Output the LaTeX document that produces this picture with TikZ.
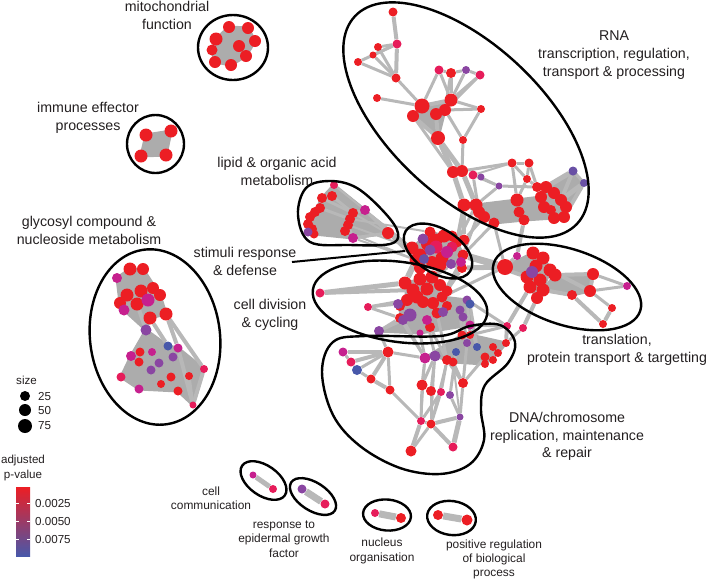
\documentclass[tikz,border=0pt]{standalone}
\usepackage{fontspec}
\setmainfont{Liberation Sans}
\usetikzlibrary{backgrounds}
\definecolor{pRed}{RGB}{236,30,36}
\definecolor{pCri}{RGB}{230,28,90}
\definecolor{pMag}{RGB}{198,32,142}
\definecolor{pPur}{RGB}{138,70,162}
\definecolor{pVio}{RGB}{105,80,165}
\definecolor{pBlu}{RGB}{72,88,170}
\definecolor{netGrey}{RGB}{184,184,184}
\definecolor{hullGrey}{RGB}{172,172,172}
\definecolor{txtGrey}{RGB}{35,31,32}
\tikzset{
  term/.style={circle, inner sep=0pt, minimum size=#1pt},
  link/.style={draw=netGrey, line width=#1pt},
  hull/.style={fill=hullGrey, draw=hullGrey, line width=3pt, line join=round},
  outline/.style={draw=black, line width=2.4pt},
  biglabel/.style={font=\fontsize{14.2}{17.8}\selectfont, text=txtGrey, align=center, inner sep=0pt},
  smalllabel/.style={font=\fontsize{11.9}{14.4}\selectfont, text=txtGrey, align=center, inner sep=0pt},
  leglabel/.style={font=\fontsize{11.6}{15}\selectfont, text=txtGrey, align=center, inner sep=0pt},
}
\begin{document}
\begin{tikzpicture}[x=1pt, y=-1pt]
		%%%%% START %%%%%
		\useasboundingbox (0,0) rectangle (708,582);

		% mitochondrial function + immune effector
		\foreach \n/\x/\y/\d/\c in {mt1/229/27/12/pRed, mt2/248/28/12/pRed, mt3/216/39/13/pRed,
		  mt4/255/41/12/pRed, mt5/239/46/12/pRed, mt6/212/50/11/pRed, mt7/246/56/12/pRed,
		  mt8/215/62/12/pRed, mt9/231/65/12/pRed,
		  im1/146/135/13/pRed, im2/171/131/13/pRed, im3/141/156/13/pRed, im4/166/155/13/pRed}
		  \node[term=\d, fill=\c] (\n) at (\x,\y) {};

		% glycosyl compound & nucleoside metabolism
		\foreach \n/\x/\y/\d/\c in {gl1/130/269/13/pRed, gl2/143/269/12/pRed, gl3/117/278/10/pMag,
		  gl4/141/291/13/pRed, gl5/153/288/12/pRed, gl6/160/295/12/pRed, gl7/127/295/13/pRed,
		  gl8/137/304/13/pRed, gl9/120/303/12/pRed, gl10/148/300/13/pMag, gl11/124/310/11/pMag,
		  gl12/150/318/13/pRed, gl13/166/314/13/pRed, gl14/146/330/11/pPur, gl15/168/346/9/pBlu,
		  gl16/178/348/9/pMag, gl17/131/356/10/pMag, gl18/140/352/9/pRed, gl19/139/362/9/pRed,
		  gl20/152/352/8/pMag, gl21/159/363/9/pPur, gl22/173/357/9/pPur, gl23/151/370/9/pPur,
		  gl24/121/377/9/pCri, gl25/139/389/9/pMag, gl26/161/384/8/pRed, gl27/171/377/9/pRed,
		  gl28/189/376/8/pRed, gl29/178/391/9/pRed, gl30/204/369/8/pCri, gl31/193/405/7/pCri}
		  \node[term=\d, fill=\c] (\n) at (\x,\y) {};

		% lipid & organic acid metabolism
		\foreach \n/\x/\y/\d/\c in {li2/332/196/10/pRed, li3/322/198/10/pRed, li4/320/208/10/pRed,
		  li5/315/212/10/pRed, li6/310/217/10/pRed, li7/308/224/10/pRed, li8/312/229/10/pRed,
		  li9/314/234/9/pRed, li11/353/213/10/pRed, li12/350/219/10/pRed, li13/348/225/10/pRed,
		  li14/345/231/10/pRed, li17/388/233/12/pRed, li1/334/185/8/pCri, li15/365/210/10/pMag,
		  li16/353/238/10/pMag, li10/308/232/9/pPur}
		  \node[term=\d, fill=\c] (\n) at (\x,\y) {};

		% RNA transcription, regulation, transport & processing
		\foreach \n/\x/\y/\d/\c in {rn1/393/12/9/pRed, rn2/378/47/8/pRed, rn3/397/44/9/pCri,
		  rn4/373/55/7/pRed, rn5/358/62/8/pRed, rn6/396/78/9/pRed, rn7/377/98/8/pRed,
		  rn8/439/70/9/pCri, rn9/451/73/10/pRed, rn10/466/70/8/pPur, rn11/480/75/9/pCri,
		  rn12/422/106/15/pRed, rn13/451/100/13/pRed, rn14/413/116/12/pRed, rn15/436/114/12/pRed,
		  rn16/445/110/12/pRed, rn17/481/109/8/pRed, rn18/438/138/14/pRed, rn19/463/140/8/pRed,
		  rn20/453/172/12/pRed, rn21/462/171/12/pRed, rn22/473/175/9/pCri, rn23/481/177/7/pPur,
		  rn24/499/186/7/pPur, rn25/512/163/9/pRed, rn26/529/163/9/pRed, rn27/527/179/8/pRed,
		  rn28/573/171/9/pVio, rn29/584/183/8/pVio, rn30/537/187/10/pRed, rn31/546/187/12/pRed,
		  rn32/554/193/12/pRed, rn33/561/200/12/pRed, rn34/566/207/12/pRed, rn35/564/217/12/pRed,
		  rn36/554/218/12/pRed, rn37/544/207/12/pRed, rn38/551/210/10/pRed, rn39/541/197/12/pRed,
		  rn40/517/200/13/pRed, rn41/519/212/11/pRed, rn42/524/220/11/pRed, rn43/464/205/13/pRed,
		  rn44/476/205/13/pRed, rn45/479/212/12/pRed, rn46/484/217/12/pRed, rn47/494/223/11/pRed,
		  rn48/464/240/11/pRed}
		  \node[term=\d, fill=\c] (\n) at (\x,\y) {};

		% stimuli response & defense
		\foreach \n/\x/\y/\d/\c in {st9/412/248/13/pRed, st10/416/260/13/pRed, st15/420/268/12/pRed,
		  st12/430/232/11/pRed, st19/428/244/14/pRed, st20/420/255/13/pRed, st7/436/240/13/pRed,
		  st8/444/236/13/pRed, st13/457/242/11/pRed, st11/442/258/13/pRed, st14/463/255/11/pRed,
		  st18/462/268/10/pRed, st21/440/265/13/pRed, st22/452/236/11/pRed, st23/432/262/12/pRed,
		  st16/436/247/13/pCri, st17/452/247/11/pCri, st4/447/252/12/pMag,
		  st6/461/262/10/pMag, st1/423/239/11/pPur, st2/430/250/11/pPur, st5/451/264/10/pPur,
		  st3/424/259/10/pVio}
		  \node[term=\d, fill=\c] (\n) at (\x,\y) {};

		% cell division & cycling
		\foreach \n/\x/\y/\d/\c in {cd1/320/293/9/pCri, cd2/368/307/8/pCri, cd3/405/283/13/pRed,
		  cd4/420/279/13/pRed, cd5/432/277/13/pRed, cd6/413/290/13/pRed, cd7/427/289/13/pRed,
		  cd30/417/297/13/pRed, cd31/440/285/12/pRed, cd32/447/291/11/pRed,
		  cd29/400/306/10/pRed, cd8/407/300/12/pRed, cd9/423/302/12/pRed, cd10/433/303/12/pRed,
		  cd11/442/297/11/pRed, cd12/437/313/11/pRed, cd13/447/306/10/pRed, cd14/400/318/10/pRed,
		  cd28/430/327/10/pRed, cd16/398/304/10/pPur, cd17/410/315/13/pPur, cd18/403/320/10/pPur,
		  cd19/427/320/10/pMag, cd20/443/312/10/pPur, cd21/460/310/9/pPur, cd22/467/300/9/pPur,
		  cd23/470/304/9/pBlu, cd24/463/317/9/pPur, cd25/470/325/9/pMag, cd26/379/331/10/pPur,
		  cd27/420/333/7/pMag}
		  \node[term=\d, fill=\c] (\n) at (\x,\y) {};

		% DNA/chromosome replication, maintenance & repair
		\foreach \n/\x/\y/\d/\c in {dn1/343/352/9/pMag, dn2/351/362/9/pCri, dn3/357/370/10/pBlu,
		  dn4/388/352/11/pRed, dn5/371/379/9/pRed, dn6/390/390/9/pRed, dn9/447/360/10/pRed,
		  dn10/453/362/9/pRed, dn12/462/335/9/pRed, dn15/470/335/8/pRed, dn16/485/357/9/pRed,
		  dn17/493/347/8/pRed, dn18/498/353/8/pRed, dn19/493/360/8/pRed, dn20/485/364/8/pRed,
		  dn21/506/343/8/pRed, dn7/425/358/11/pMag, dn8/435/356/11/pPur, dn11/456/352/8/pBlu,
		  dn13/467/343/8/pPur, dn14/477/347/8/pBlu, dn22/422/385/11/pRed, dn23/431/391/10/pRed,
		  dn24/441/392/8/pCri, dn25/450/395/8/pPur, dn26/463/383/10/pRed, dn27/460/417/7/pPur,
		  dn28/421/421/8/pCri, dn29/431/424/9/pRed, dn30/411/451/11/pRed, dn31/453/447/9/pCri}
		  \node[term=\d, fill=\c] (\n) at (\x,\y) {};

		% translation, protein transport & targetting
		\foreach \n/\x/\y/\d/\c in {tr2/505/267/16/pRed, tr4/533/253/13/pRed, tr5/543/258/13/pRed,
		  tr6/550/270/13/pRed, tr7/540/280/13/pRed, tr8/530/287/13/pRed, tr9/543/290/13/pRed,
		  tr10/537/298/12/pRed, tr11/555/275/13/pRed, tr12/527/277/13/pRed, tr19/536/266/13/pRed,
		  tr13/593/274/12/pRed, tr14/590/291/12/pRed, tr15/572/295/10/pRed, tr17/612/308/8/pRed,
		  tr18/603/324/8/pRed, tr1/517/256/8/pMag, tr3/532/272/12/pPur, tr16/627/286/8/pMag,
		  lk1/507/326/8/pCri, lk2/523/328/8/pCri}
		  \node[term=\d, fill=\c] (\n) at (\x,\y) {};

		% small pairs
		\foreach \n/\x/\y/\d/\c in {cc1/253/475/7/pMag, cc2/273/489/8/pCri, eg1/302/489/9/pPur,
		  eg2/325/504/9/pCri, nu1/375/513/8/pCri, nu2/401/518/10/pRed, pr1/438/515/10/pRed,
		  pr2/467/520/11/pRed}
		  \node[term=\d, fill=\c] (\n) at (\x,\y) {};

		\begin{scope}[on background layer]
		\filldraw[hull] (mt1.center) -- (mt2.center) -- (mt4.center) -- (mt7.center) -- (mt9.center) -- (mt8.center) -- (mt6.center) -- (mt3.center) -- cycle;
		\filldraw[hull] (im1.center) -- (im2.center) -- (im4.center) -- (im3.center) -- cycle;
		\filldraw[hull] (gl3.center) -- (gl1.center) -- (gl2.center) -- (gl6.center) -- (gl13.center) -- (gl12.center) -- (gl14.center) -- (gl11.center) -- (gl9.center) -- cycle;
		\filldraw[hull] (gl14.center) -- (gl15.center) -- (gl16.center) -- (gl30.center) -- (gl31.center) -- (gl29.center) -- (gl25.center) -- (gl24.center) -- (gl17.center) -- cycle;
		\filldraw[hull] (li1.center) -- (li15.center) -- (li17.center) -- (li16.center) -- (li9.center) -- (li10.center) -- (li7.center) -- (li5.center) -- (li3.center) -- cycle;
		\filldraw[hull] (rn12.center) -- (rn13.center) -- (rn16.center) -- (rn18.center) -- (rn14.center) -- cycle;
		\filldraw[hull] (rn43.center) -- (rn44.center) -- (rn40.center) -- (rn39.center) -- (rn31.center) -- (rn28.center) -- (rn29.center) -- (rn34.center) -- (rn35.center) -- (rn36.center) -- (rn42.center) -- (rn47.center) -- (rn46.center) -- (rn45.center) -- cycle;
		\filldraw[hull] (st12.center) -- (st8.center) -- (st13.center) -- (st14.center) -- (st18.center) -- (st5.center) -- (st15.center) -- (st10.center) -- (st9.center) -- cycle;
		\filldraw[hull] (cd3.center) -- (cd5.center) -- (cd11.center) -- (cd22.center) -- (cd23.center) -- (cd25.center) -- (cd27.center) -- (cd26.center) -- (cd18.center) -- (cd16.center) -- (cd8.center) -- cycle;
		\filldraw[hull] (dn7.center) -- (dn12.center) -- (dn15.center) -- (dn21.center) -- (dn18.center) -- (dn20.center) -- (dn10.center) -- (dn9.center) -- (dn8.center) -- cycle;
		\filldraw[hull] (tr2.center) -- (tr4.center) -- (tr5.center) -- (tr11.center) -- (tr6.center) -- (tr9.center) -- (tr10.center) -- (tr8.center) -- (tr12.center) -- cycle;
		\filldraw[hull] (tr11.center) -- (tr13.center) -- (tr14.center) -- (tr15.center) -- (tr9.center) -- cycle;

		\foreach \a/\b/\w in {rn1/rn3/4, rn3/rn6/4, rn2/rn3/3, rn4/rn3/3, rn5/rn3/3, rn5/rn6/3,
		  rn4/rn6/3, rn2/rn6/3, rn6/rn12/3, rn7/rn12/3, rn12/rn13/4, rn13/rn15/4, rn8/rn13/3,
		  rn9/rn13/3, rn10/rn13/3, rn11/rn13/3, rn8/rn9/3, rn9/rn10/3, rn10/rn11/3, rn8/rn12/3,
		  rn9/rn16/3, rn11/rn16/3, rn16/rn17/3, rn13/rn17/3, rn17/rn19/3, rn14/rn18/4, rn15/rn18/4,
		  rn16/rn19/3, rn18/rn20/5, rn18/rn21/5, rn19/rn21/3, rn14/rn20/3, rn21/rn25/3, rn25/rn26/3,
		  rn26/rn27/3, rn25/rn27/3, rn22/rn25/2, rn20/rn43/5, rn21/rn44/5, rn22/rn45/3, rn22/rn24/3,
		  rn23/rn24/2, rn24/rn30/3, rn27/rn30/3, rn24/rn44/3, rn28/rn29/3, rn28/rn31/5, rn29/rn33/5,
		  rn28/rn33/4, rn29/rn35/4, rn26/rn30/3, rn25/rn40/3, rn27/rn40/3, rn43/rn48/4, rn46/rn48/3,
		  rn48/st8/5, rn43/st13/4, rn44/st13/3, rn45/st14/3, rn47/st14/3, rn42/tr1/4, tr1/tr2/4,
		  rn47/tr2/3, st14/tr2/7, st18/tr2/5, st14/tr12/4, cd11/tr2/3,
		  tr11/tr13/4, tr6/tr14/4, tr13/tr14/4, tr13/tr16/3, tr14/tr16/3, tr9/tr15/4, tr15/tr18/4,
		  tr17/tr18/4, tr14/tr17/3, tr8/lk1/4, tr10/lk2/4, lk1/dn21/4, lk2/dn21/3, lk1/cd25/3,
		  lk1/dn15/3, lk1/cd22/3,
		  st10/cd3/6, st15/cd4/6, st5/cd5/5, st18/cd11/4, st6/cd11/4,
		  cd1/cd3/5, cd1/cd6/4, cd2/cd16/3, cd2/cd8/3, cd2/cd14/3, cd26/cd14/3, cd26/cd18/3,
		  cd26/dn4/3, cd14/dn7/3, cd18/dn7/3, cd19/dn8/3, cd12/dn9/3, cd24/dn13/3, cd25/dn14/3,
		  cd27/dn7/3, cd28/dn9/3, cd23/dn14/3, cd22/dn15/3, cd21/dn12/3,
		  dn1/dn4/4, dn2/dn4/4, dn3/dn4/3, dn1/dn2/3, dn2/dn3/3, dn3/dn5/3, dn4/dn5/4, dn4/dn6/3,
		  dn5/dn6/4, dn6/dn28/3, dn4/dn7/3, dn7/dn22/3, dn8/dn22/3, dn8/dn23/3, dn9/dn24/3,
		  dn10/dn26/3, dn11/dn25/3, dn9/dn26/3, dn13/dn26/3, dn16/dn26/3, dn7/dn28/2, dn8/dn29/2,
		  dn9/dn29/2, dn10/dn27/2, dn22/dn28/3, dn23/dn29/3, dn24/dn29/3, dn25/dn27/3, dn26/dn27/3,
		  dn24/dn28/3, dn28/dn29/3, dn29/dn27/4, dn28/dn30/4, dn29/dn30/3, dn29/dn31/4, dn27/dn31/5,
		  li2/li11/3, li3/li11/3, li4/li12/3, li11/li15/3, li13/li16/3, li17/li16/3, li15/li17/3,
		  li15/st9/2, li11/st9/2, li17/st9/3, li17/st10/3, li16/st10/2, li14/st10/2, li13/st9/2,
		  li1/st9/2, li12/st12/2,
		  gl12/gl15/4, gl13/gl16/4, gl13/gl30/4, gl16/gl31/4, gl30/gl31/4, gl28/gl31/3, gl8/gl14/4,
		  cc1/cc2/5, eg1/eg2/7, nu1/nu2/7, pr1/pr2/7}
		  \draw[link=\w] (\a) -- (\b);
		\end{scope}

		% cluster outlines
		\draw[outline] (233,47.5) ellipse [x radius=35, y radius=32.5];
		\draw[outline] (155.5,144) ellipse [x radius=28.5, y radius=29];
		\draw[outline, rotate around={7:(155,337)}] (155,337) ellipse [x radius=65, y radius=88];
		\draw[outline, rotate around={-43:(466,120)}] (466,120) ellipse [x radius=152, y radius=76];
		\draw[outline, rotate around={-32:(438,251)}] (438,251) ellipse [x radius=38, y radius=22];
		\draw[outline, rotate around={-8:(400,302)}] (400,302) ellipse [x radius=88, y radius=40];
		\draw[outline, rotate around={-18:(567,287)}] (567,287) ellipse [x radius=77, y radius=38];
		\draw[outline] plot[smooth cycle, tension=0.6] coordinates {(298,215) (306,188) (330,181) (357,188) (385,213) (398,233) (390,244) (350,245) (310,242)};
		\draw[outline] plot[smooth cycle, tension=0.6] coordinates {(322,372) (333,342) (365,336) (440,336) (470,326) (500,325) (515,342) (508,363) (485,385) (481,410) (484,440) (470,464) (440,474) (400,468) (360,446) (333,415)};
		\draw[outline, rotate around={-35:(263.5,480.5)}] (263.5,480.5) ellipse [x radius=26, y radius=15];
		\draw[outline, rotate around={-33:(313,496.5)}] (313,496.5) ellipse [x radius=26, y radius=14];
		\draw[outline, rotate around={-5:(387,515)}] (387,515) ellipse [x radius=24, y radius=15.5];
		\draw[outline, rotate around={-8:(451.5,518)}] (451.5,518) ellipse [x radius=24.5, y radius=17];

		% labels
		\node[biglabel] (mitoLbl) at (167,15.5) {mitochondrial\\function};
		\node[biglabel] (immLbl) at (88,118) {immune effector\\processes};
		\node[biglabel] (lipLbl) at (277,171.5) {lipid \& organic acid\\metabolism};
		\node[biglabel] (glyLbl) at (89,230.5) {glycosyl compound \&\\nucleoside metabolism};
		\node[biglabel] (stimLbl) at (245,261.5) {stimuli response\\\& defense};
		\node[biglabel] (cdivLbl) at (270,315) {cell division\\\& cycling};
		\node[biglabel] (rnaLbl) at (614,55) {RNA\\transcription, regulation,\\transport \& processing};
		\node[biglabel] (transLbl) at (617,350) {translation,\\protein transport \& targetting};
		\node[biglabel] (dnaLbl) at (567,436.5) {DNA/chromosome\\replication, maintenance\\\& repair};
		\node[smalllabel] (ccLbl) at (211,498) {cell\\communication};
		\node[smalllabel] (egfLbl) at (284,539) {response to\\epidermal growth\\factor};
		\node[smalllabel] (nucLbl) at (382,551) {nucleus\\organisation};
		\node[smalllabel] (posLbl) at (494,559.5) {positive regulation\\of biological\\process};

		\coordinate (stimA) at (292,262);
		\coordinate (stimB) at (405,251);
		\draw[outline, line width=2pt] (stimA) -- (stimB);

		% legend
		\node[leglabel, anchor=west] (sizeLbl) at (16,380) {size};
		\foreach \n/\y/\d/\t in {sz25/396/10/25, sz50/410/12/50, sz75/426/14/75} {
		  \node[term=\d, fill=black] (\n) at (25,\y) {};
		  \node[leglabel, anchor=west] (\n txt) at (38,\y) {\t};
		}
		\node[leglabel] (pvalLbl) at (23,467.5) {adjusted\\p-value};
		\shade[top color=pRed, middle color=pMag, bottom color=pBlu] (16,487) rectangle (30,556);
		\foreach \n/\y/\t in {pv25/503/0.0025, pv50/521/0.0050, pv75/539/0.0075} {
		  \draw[white, line width=0.7pt] (16,\y) -- (19,\y) (27,\y) -- (30,\y);
		  \node[leglabel, anchor=west] (\n) at (35,\y) {\t};
		}
		%%%%% END %%%%%
\end{tikzpicture}
\end{document}
